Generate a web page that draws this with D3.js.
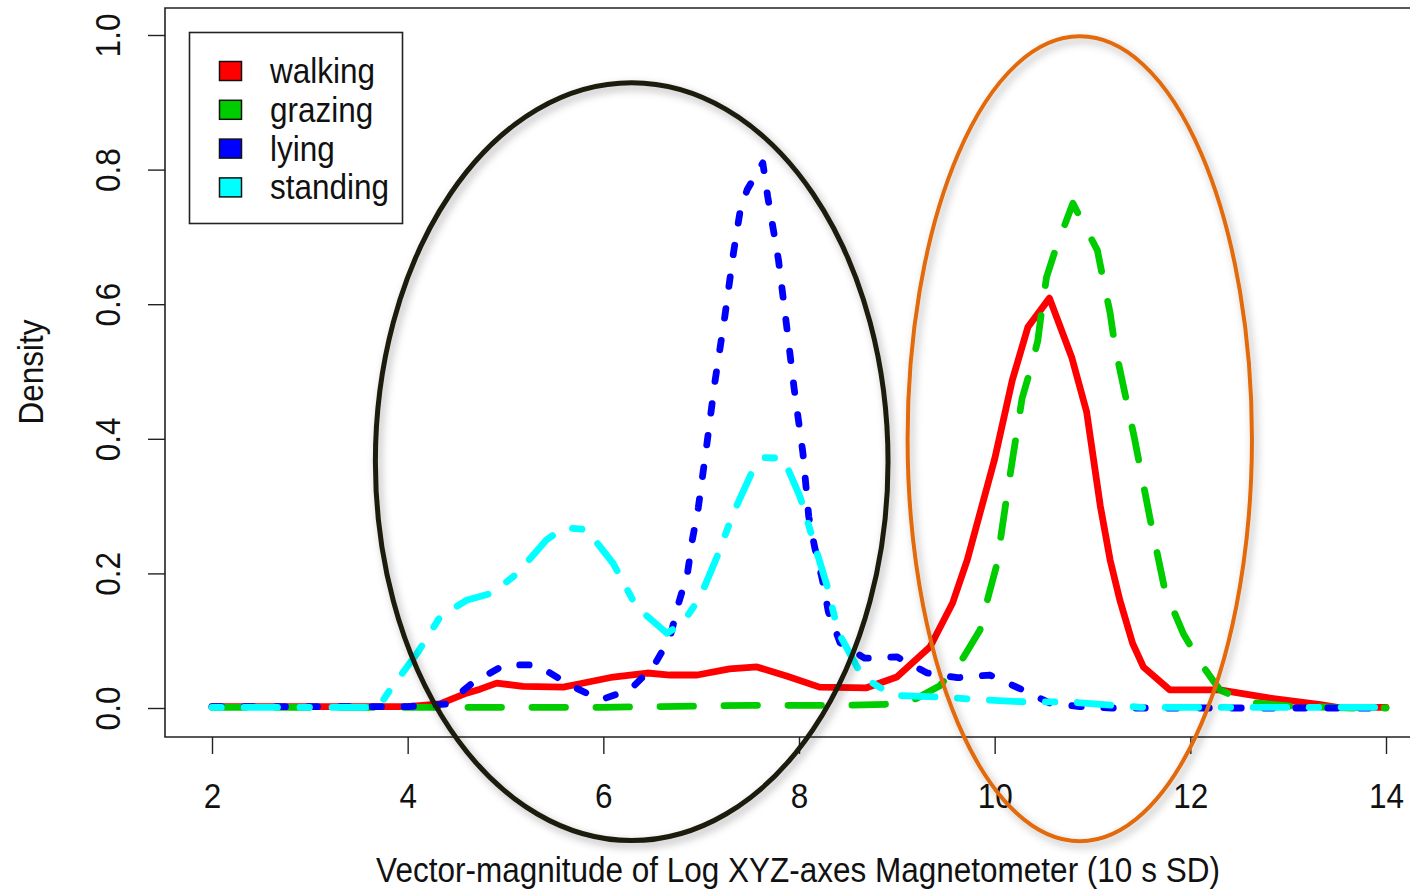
<!DOCTYPE html>
<html>
<head>
<meta charset="utf-8">
<script src="https://cdn.jsdelivr.net/npm/d3@7"></script>
<style>
  html, body { margin: 0; padding: 0; background: white; }
  svg text { font-family: 'Liberation Sans', Arial, sans-serif; fill: #111; }
</style>
</head>
<body>
<script>
// density curves, [x, density]
var walking = [
  [2, 0.002], [3, 0.002], [4, 0.002], [4.33, 0.006], [4.6, 0.022], [4.74, 0.028],
  [4.91, 0.037], [5.18, 0.032], [5.59, 0.031], [5.76, 0.036], [6.1, 0.046], [6.45, 0.052],
  [6.68, 0.049], [6.96, 0.049], [7.29, 0.058], [7.57, 0.061], [7.88, 0.047], [8.21, 0.031],
  [8.69, 0.03], [9.0, 0.046], [9.34, 0.091], [9.57, 0.156], [9.72, 0.22], [10.0, 0.37],
  [10.18, 0.487], [10.34, 0.566], [10.56, 0.609], [10.79, 0.52], [10.94, 0.44], [11.08, 0.3],
  [11.18, 0.22], [11.28, 0.16], [11.41, 0.096], [11.52, 0.061], [11.79, 0.027], [12.3, 0.027],
  [12.8, 0.015], [13.33, 0.005], [13.5, 0.001], [14, 0.001]
];
var grazing = [
  [2, 0.001], [4, 0.001], [6, 0.001], [7.5, 0.004], [8.5, 0.004], [9.0, 0.006], [9.2, 0.014],
  [9.44, 0.033], [9.68, 0.075], [9.85, 0.116], [9.93, 0.163], [10.02, 0.212], [10.14, 0.33],
  [10.28, 0.46], [10.36, 0.5], [10.44, 0.545], [10.48, 0.59], [10.53, 0.64], [10.63, 0.685],
  [10.8, 0.75], [10.87, 0.73], [11.05, 0.68], [11.11, 0.636], [11.18, 0.587], [11.23, 0.537],
  [11.43, 0.4], [11.59, 0.28], [11.74, 0.175], [11.93, 0.11], [12.1, 0.068], [12.3, 0.027],
  [12.58, 0.009], [13.0, 0.003], [13.66, 0.0], [14, 0.0]
];
var lying = [
  [2, 0.002], [3, 0.002], [4, 0.002], [4.4, 0.006], [4.66, 0.037], [4.99, 0.064], [5.32, 0.064],
  [5.66, 0.034], [5.97, 0.012], [6.27, 0.027], [6.51, 0.061], [6.68, 0.104], [6.77, 0.156],
  [6.86, 0.2], [6.91, 0.25], [6.97, 0.297], [7.06, 0.394], [7.14, 0.484], [7.24, 0.58],
  [7.33, 0.676], [7.4, 0.74], [7.47, 0.77], [7.63, 0.81], [7.68, 0.76], [7.79, 0.666],
  [7.87, 0.572], [7.95, 0.475], [8.04, 0.379], [8.1, 0.284], [8.16, 0.239], [8.24, 0.19],
  [8.3, 0.143], [8.42, 0.097], [8.67, 0.074], [9.0, 0.076], [9.31, 0.052], [9.62, 0.045],
  [9.95, 0.049], [10.24, 0.03], [10.57, 0.007], [10.87, 0.002], [11.2, 0.0], [14, 0.0]
];
var standing = [
  [2, 0.001], [3.7, 0.001], [3.82, 0.027], [4.1, 0.082], [4.33, 0.135], [4.6, 0.16],
  [4.87, 0.171], [5.12, 0.2], [5.42, 0.25], [5.6, 0.268], [5.83, 0.265], [6.1, 0.215],
  [6.34, 0.15], [6.65, 0.111], [6.81, 0.126], [6.99, 0.165], [7.16, 0.224], [7.33, 0.29],
  [7.53, 0.354], [7.65, 0.372], [7.84, 0.371], [8.01, 0.314], [8.29, 0.18], [8.4, 0.113],
  [8.65, 0.046], [8.96, 0.019], [9.5, 0.016], [9.88, 0.012], [10.33, 0.009], [10.77, 0.009],
  [11.2, 0.004], [11.5, 0.001], [14, 0.001]
];

var seriesNames = ['walking', 'grazing', 'lying', 'standing'];
var xTicks = [2, 4, 6, 8, 10, 12, 14];
var yTicks = [0, 0.2, 0.4, 0.6, 0.8, 1.0];

// highlight ellipses, in data units: centre x, centre y, radius x, radius y
var highlights = [
  { cx: 6.29, cy: 0.366, rx: 2.62, ry: 0.563, color: '#1e1a10', width: 5 },
  { cx: 10.87, cy: 0.400, rx: 1.76, ry: 0.598, color: '#e26b0a', width: 4 }
];

var width = 1410,
    height = 889,
    fontSize = 31.5,
    stretch = 'scale(1,1.12)';   // the source text is a bit taller than plain Arial

var svg = d3.select('body')
  .append('svg')
  .attr('width', width)
  .attr('height', height);

var defs = svg.append('defs');
var shadow = defs.append('filter')
  .attr('id', 'shadow')
  .attr('x', '-10%').attr('y', '-10%')
  .attr('width', '130%').attr('height', '130%');
shadow.append('feDropShadow')
  .attr('dx', 3)
  .attr('dy', 4)
  .attr('stdDeviation', 4)
  .attr('flood-color', '#000')
  .attr('flood-opacity', 0.3);

var x = d3.scaleLinear().domain([2, 14]).range([212, 1386]);
var y = d3.scaleLinear().domain([0, 1]).range([708, 35]);

// plot frame (right side runs off the picture)
svg.append('path')
  .attr('d', 'M1420,8 H165 V737 H1420')
  .attr('fill', 'none')
  .attr('stroke', '#222')
  .attr('stroke-width', 1.6);

var xAxis = svg.append('g')
  .attr('transform', 'translate(0,737)')
  .call(d3.axisBottom(x).tickValues(xTicks).tickSize(17).tickFormat(d3.format('d')));
xAxis.select('.domain').remove();
xAxis.selectAll('line').attr('stroke', '#222').attr('stroke-width', 1.4);
xAxis.selectAll('text')
  .attr('font-size', fontSize)
  .attr('fill', '#111')
  .attr('y', 0)
  .attr('dy', 0)
  .attr('transform', 'translate(0,71) ' + stretch)
  .style('font-family', "'Liberation Sans', Arial, sans-serif");

var yAxis = svg.append('g')
  .attr('transform', 'translate(165,0)')
  .call(d3.axisLeft(y).tickValues(yTicks).tickSize(17).tickFormat(d3.format('.1f')));
yAxis.select('.domain').remove();
yAxis.selectAll('line').attr('stroke', '#222').attr('stroke-width', 1.4);
yAxis.selectAll('text')
  .attr('font-size', fontSize)
  .attr('fill', '#111')
  .attr('text-anchor', 'middle')
  .attr('dy', 0)
  .attr('x', 0)
  .attr('transform', 'translate(-45,0) rotate(-90) ' + stretch)
  .style('font-family', "'Liberation Sans', Arial, sans-serif");

svg.append('text')
  .attr('transform', 'translate(798,882) ' + stretch)
  .attr('text-anchor', 'middle')
  .attr('font-size', fontSize)
  .text('Vector-magnitude of Log XYZ-axes Magnetometer (10 s SD)');

svg.append('text')
  .attr('transform', 'translate(43,372) rotate(-90) ' + stretch)
  .attr('text-anchor', 'middle')
  .attr('font-size', fontSize)
  .text('Density');

var lineStyles = [
  { data: walking, color: '#ff0000', dash: null },
  { data: grazing, color: '#00cd00', dash: '33.5,30.5' },
  { data: lying, color: '#0000ff', dash: '9.5,22.5' },
  { data: standing, color: '#00ffff', dash: '9.5,22.5,33.5,22.5' }
];

var line = d3.line()
  .x(function (d) { return x(d[0]); })
  .y(function (d) { return y(d[1]); });

svg.selectAll('path.density')
  .data(lineStyles)
  .enter().append('path')
  .attr('class', 'density')
  .attr('d', function (d) { return line(d.data); })
  .attr('fill', 'none')
  .attr('stroke', function (d) { return d.color; })
  .attr('stroke-width', 6.8)
  .attr('stroke-linecap', 'round')
  .attr('stroke-linejoin', 'round')
  .attr('stroke-dasharray', function (d) { return d.dash; });

// legend
var legend = svg.append('g');
legend.append('rect')
  .attr('x', 189.5)
  .attr('y', 32.5)
  .attr('width', 213)
  .attr('height', 191)
  .attr('fill', 'white')
  .attr('stroke', '#222')
  .attr('stroke-width', 1.6);

var legendRows = legend.selectAll('g.row')
  .data(lineStyles)
  .enter().append('g')
  .attr('class', 'row')
  .attr('transform', function (d, i) { return 'translate(0,' + (71 + i * 38.8) + ')'; });

legendRows.append('rect')
  .attr('x', 219.5)
  .attr('y', -9.5)
  .attr('width', 22)
  .attr('height', 19)
  .attr('fill', function (d) { return d.color; })
  .attr('stroke', '#111')
  .attr('stroke-width', 1.5);

legendRows.append('text')
  .attr('transform', 'translate(270,12) ' + stretch)
  .attr('font-size', fontSize)
  .text(function (d, i) { return seriesNames[i]; });

// annotation ellipses
svg.selectAll('ellipse.mark')
  .data(highlights)
  .enter().append('ellipse')
  .attr('class', 'mark')
  .attr('cx', function (d) { return x(d.cx); })
  .attr('cy', function (d) { return y(d.cy); })
  .attr('rx', function (d) { return x(d.cx + d.rx) - x(d.cx); })
  .attr('ry', function (d) { return y(0) - y(d.ry); })
  .attr('fill', 'none')
  .attr('stroke', function (d) { return d.color; })
  .attr('stroke-width', function (d) { return d.width; })
  .attr('filter', 'url(#shadow)');
</script>
</body>
</html>
